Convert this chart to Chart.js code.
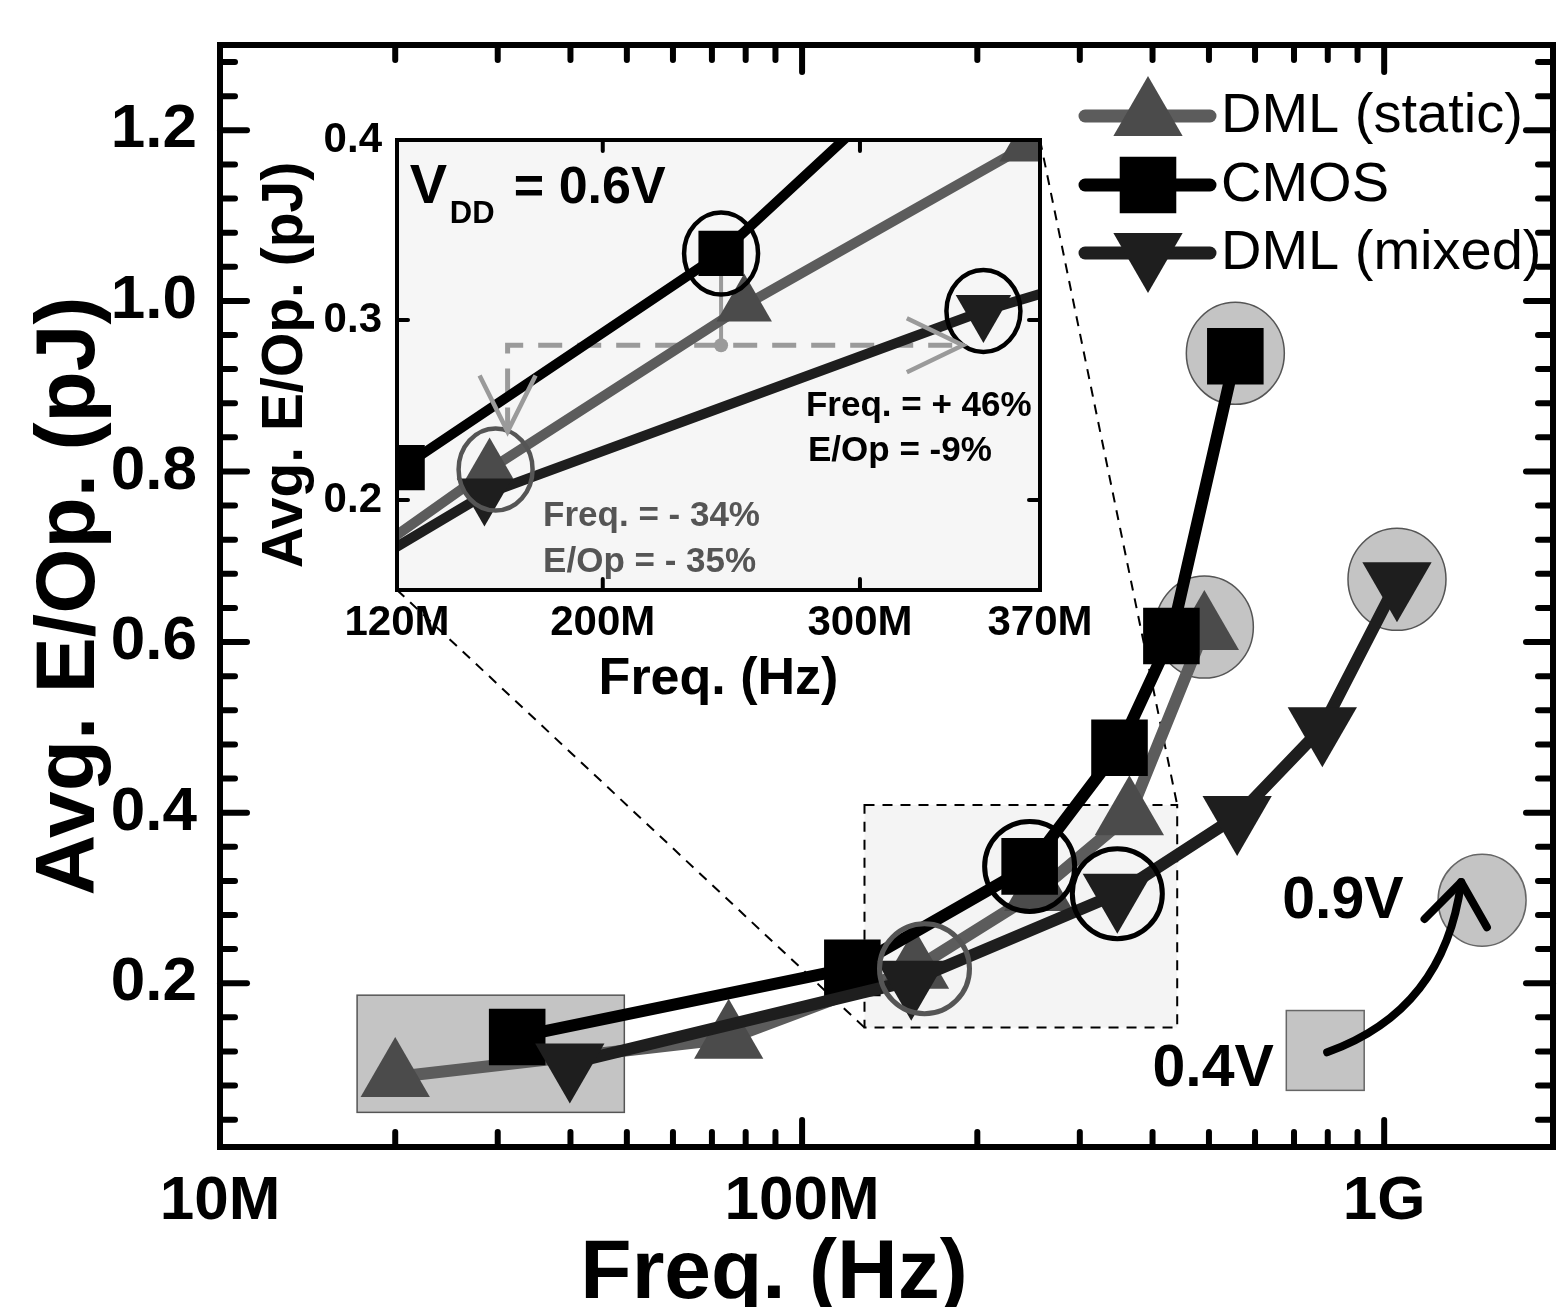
<!DOCTYPE html>
<html>
<head>
<meta charset="utf-8">
<script src="https://cdn.jsdelivr.net/npm/chart.js@4/dist/chart.umd.min.js"></script>
<style>
  html, body { margin: 0; padding: 0; background: #fff; }
  #wrap { position: relative; width: 1563px; height: 1307px; overflow: hidden; background: #fff; }
  #main { position: absolute; left: 0; top: 0; }
  #inset { position: absolute; left: 240px; top: 100px; }
</style>
</head>
<body>
<div id="wrap">
  <canvas id="main" width="1563" height="1307"></canvas>
  <canvas id="inset" width="860" height="620"></canvas>
</div>
<script>
'use strict';

/* Data (freq in Hz, avg energy per op in pJ) */

var seriesNames = ['DML (static)', 'CMOS', 'DML (mixed)'];

var staticFreq = [20e6, 74.8e6, 156e6, 255e6, 365e6, 491e6];
var staticEop  = [0.090, 0.135, 0.217, 0.308, 0.397, 0.614];

var cmosFreq = [32.4e6, 122e6, 246e6, 351e6, 431e6, 555e6];
var cmosEop  = [0.137, 0.218, 0.337, 0.476, 0.607, 0.935];

var mixedFreq = [39.9e6, 154e6, 348e6, 559e6, 783e6, 1052e6];
var mixedEop  = [0.106, 0.203, 0.305, 0.396, 0.500, 0.670];

var xTickValues = [1e7, 1e8, 1e9];
var xTickLabels = ['10M', '100M', '1G'];
var yTickValues = [0.2, 0.4, 0.6, 0.8, 1.0, 1.2];

var insetXTickValues = [120e6, 200e6, 300e6, 370e6];
var insetXTickLabels = ['120M', '200M', '300M', '370M'];
var insetYTickValues = [0.2, 0.3, 0.4];

var xTitle = 'Freq. (Hz)';
var yTitle = 'Avg. E/Op. (pJ)';

var FONT = "'Liberation Sans', Arial, sans-serif";

/* helpers */

function points(fs, vs) {
  return fs.map(function(f, i) { return {x: f, y: vs[i]}; });
}

function makeDatasets(radius, lineWidth) {
  return [
    {label: seriesNames[0], data: points(staticFreq, staticEop), borderColor: '#5c5c5c',
     pointBackgroundColor: '#4b4b4b', pointStyle: 'triangle', pointRotation: 0, order: 3},
    {label: seriesNames[1], data: points(cmosFreq, cmosEop), borderColor: '#000000',
     pointBackgroundColor: '#000000', pointStyle: 'rect', pointRotation: 0, order: 2},
    {label: seriesNames[2], data: points(mixedFreq, mixedEop), borderColor: '#1e1e1e',
     pointBackgroundColor: '#1e1e1e', pointStyle: 'triangle', pointRotation: 180, order: 1}
  ].map(function(ds) {
    return Object.assign(ds, {
      pointRadius: radius, pointHoverRadius: radius, pointBorderWidth: 0,
      borderWidth: lineWidth, fill: false, tension: 0
    });
  });
}

function drawMarker(ctx, style, rot, r, x, y) {
  ctx.beginPath();
  if (style === 'rect') {
    var s = r * Math.SQRT1_2;
    ctx.rect(x - s, y - s, 2 * s, 2 * s);
  } else {
    var a = rot * Math.PI / 180;
    for (var k = 0; k < 3; k++) {
      var t = a + k * 2 * Math.PI / 3;
      ctx.lineTo(x + Math.sin(t) * r, y - Math.cos(t) * r);
    }
    ctx.closePath();
  }
  ctx.fill();
}

function P(chart, f, v) {
  return [chart.scales.x.getPixelForValue(f), chart.scales.y.getPixelForValue(v)];
}

function seriesPoint(chart, s, i) {
  var fs = [staticFreq, cmosFreq, mixedFreq][s];
  var vs = [staticEop, cmosEop, mixedEop][s];
  return P(chart, fs[i], vs[i]);
}

function line(ctx, x0, y0, x1, y1) {
  ctx.beginPath(); ctx.moveTo(x0, y0); ctx.lineTo(x1, y1); ctx.stroke();
}

function drawFrame(chart, spec) {
  var a = chart.chartArea, ctx = chart.ctx;
  var sx = chart.scales.x, sy = chart.scales.y;
  ctx.save();
  ctx.strokeStyle = '#000';
  ctx.lineCap = 'round';
  ctx.lineWidth = spec.tickWidth;
  spec.xTicks.forEach(function(t) {
    var x = sx.getPixelForValue(t[0]);
    line(ctx, x, a.bottom, x, a.bottom - t[1]);
    line(ctx, x, a.top, x, a.top + t[1]);
  });
  spec.yTicks.forEach(function(t) {
    var y = sy.getPixelForValue(t[0]);
    line(ctx, a.left, y, a.left + t[1], y);
    line(ctx, a.right, y, a.right - t[1], y);
  });
  ctx.lineCap = 'butt';
  ctx.lineWidth = spec.frameWidth;
  ctx.strokeRect(a.left, a.top, a.right - a.left, a.bottom - a.top);
  ctx.restore();
}

function axisFont(size) {
  return {family: FONT, size: size, weight: 'bold', lineHeight: 1.2};
}

// fixed axis box, no extra room asked for labels at the ends
function fixBox(w, h) {
  return function(s) {
    if (w) s.width = w;
    if (h) s.height = h;
    s.paddingLeft = 0; s.paddingRight = 0; s.paddingTop = 0; s.paddingBottom = 0;
  };
}

/* main chart tick marks */
var mainXTicks = [];
[1e7, 1e8].forEach(function(d) {
  mainXTicks.push([d, 27]);
  for (var m = 2; m <= 9; m++) mainXTicks.push([m * d, 15]);
});
mainXTicks.push([1e9, 27]);
var mainYTicks = [];
for (var k = 1; k <= 32; k++) {
  mainYTicks.push([k * 0.04, k % 5 === 0 ? 27 : 15]);
}

/* inset chart */

var insetCanvas = document.getElementById('inset');

var insetDecor = {
  id: 'insetDecor',
  beforeDatasetsDraw: function(chart) {
    var a = chart.chartArea, ctx = chart.ctx;
    ctx.save();
    ctx.fillStyle = '#f6f6f6';
    ctx.fillRect(a.left, a.top, a.right - a.left, a.bottom - a.top);

    // dashed gray path: static point -> mixed point, marker at CMOS freq
    var a0 = P(chart, 163e6, 0.238);
    var a1 = P(chart, 163e6, 0.286);
    var a2 = P(chart, 340e6, 0.286);
    var d0 = P(chart, 246e6, 0.286), d1 = P(chart, 246e6, 0.337);
    ctx.strokeStyle = '#9a9a9a';
    ctx.lineWidth = 5;
    ctx.setLineDash([24, 15]);
    ctx.beginPath();
    ctx.moveTo(a0[0], a0[1]); ctx.lineTo(a1[0], a1[1]); ctx.lineTo(a2[0] - 8, a2[1]);
    ctx.stroke();
    ctx.setLineDash([]);
    ctx.lineWidth = 4;
    line(ctx, d0[0], d0[1], d1[0], d1[1]);
    ctx.restore();
  },
  afterDatasetsDraw: function(chart) {
    var ctx = chart.ctx;
    ctx.save();

    // highlighted points
    [[1, 2, '#000'], [2, 2, '#000'], [0, 2, '#555']].forEach(function(c) {
      var p = seriesPoint(chart, c[0], c[1]);
      ctx.strokeStyle = c[2];
      ctx.lineWidth = 4.5;
      ctx.beginPath();
      ctx.ellipse(p[0] + (c[0] === 0 ? 6 : 0), p[1], 37, 41, 0, 0, 2 * Math.PI);
      ctx.stroke();
    });

    // arrow heads and dot
    var a0 = P(chart, 163e6, 0.238);
    var a2 = P(chart, 340e6, 0.286);
    ctx.strokeStyle = '#9a9a9a';
    ctx.lineWidth = 4.5;
    ctx.beginPath();
    ctx.moveTo(a0[0] - 28, a0[1] - 56); ctx.lineTo(a0[0], a0[1]); ctx.lineTo(a0[0] + 28, a0[1] - 56);
    ctx.stroke();
    ctx.beginPath();
    ctx.moveTo(a2[0] - 56, a2[1] - 27); ctx.lineTo(a2[0], a2[1]); ctx.lineTo(a2[0] - 56, a2[1] + 27);
    ctx.stroke();
    var dot = P(chart, 246e6, 0.286);
    ctx.fillStyle = '#9a9a9a';
    ctx.beginPath(); ctx.arc(dot[0], dot[1], 7, 0, 2 * Math.PI); ctx.fill();

    ctx.restore();
    drawFrame(chart, {
      frameWidth: 4, tickWidth: 4,
      xTicks: [[200e6, 11], [300e6, 11]],
      yTicks: [[0.2, 11], [0.3, 11]]
    });

    // texts
    ctx.save();
    ctx.textAlign = 'left';
    ctx.textBaseline = 'alphabetic';
    ctx.fillStyle = '#000';
    var t = P(chart, 125e6, 0.365);
    ctx.font = 'bold 56px ' + FONT;
    ctx.fillText('V', t[0], t[1]);
    ctx.font = 'bold 31px ' + FONT;
    ctx.fillText('DD', t[0] + 40, t[1] + 20);
    ctx.font = 'bold 52px ' + FONT;
    ctx.fillText('= 0.6V', t[0] + 104, t[1]);

    ctx.font = 'bold 35px ' + FONT;
    t = P(chart, 279e6, 0.2467);
    ctx.fillText('Freq. = + 46%', t[0], t[1]);
    t = P(chart, 279.8e6, 0.2217);
    ctx.fillText('E/Op = -9%', t[0], t[1]);
    ctx.fillStyle = '#555';
    t = P(chart, 176.8e6, 0.1856);
    ctx.fillText('Freq. = - 34%', t[0], t[1]);
    t = P(chart, 176.8e6, 0.160);
    ctx.fillText('E/Op = - 35%', t[0], t[1]);
    ctx.restore();
  }
};

var insetChart = new Chart(insetCanvas, {
  type: 'line',
  data: {datasets: makeDatasets(32, 10)},
  options: {
    responsive: false,
    animation: false,
    devicePixelRatio: 1,
    layout: {autoPadding: false, padding: {left: 0, top: 40, right: 60, bottom: 0}},
    plugins: {legend: {display: false}, tooltip: {enabled: false}},
    scales: {
      x: {
        type: 'linear', min: 120e6, max: 370e6,
        grid: {display: false, drawTicks: false}, border: {display: false},
        afterBuildTicks: function(s) { s.ticks = insetXTickValues.map(function(v) { return {value: v}; }); },
        afterFit: fixBox(0, 130),
        ticks: {autoSkip: false, maxRotation: 0, padding: 8, color: '#000', font: axisFont(42),
                callback: function(v, i) { return insetXTickLabels[i]; }},
        title: {display: true, text: xTitle, color: '#000',
                font: {family: FONT, size: 52, weight: 'bold', lineHeight: 1}, padding: {top: 0, bottom: 14}}
      },
      y: {
        type: 'linear', min: 0.15, max: 0.4,
        grid: {display: false, drawTicks: false}, border: {display: false},
        afterBuildTicks: function(s) { s.ticks = insetYTickValues.map(function(v) { return {value: v}; }); },
        afterFit: fixBox(157, 0),
        ticks: {autoSkip: false, padding: 15, color: '#000', font: axisFont(42),
                callback: function(v) { return v.toFixed(1); }},
        title: {display: true, text: yTitle, color: '#000',
                font: {family: FONT, size: 57, weight: 'bold', lineHeight: 1}, padding: {top: 18, bottom: 0}}
      }
    }
  },
  plugins: [insetDecor]
});

/* main chart */

var mainDecor = {
  id: 'mainDecor',
  beforeDatasetsDraw: function(chart) {
    var ctx = chart.ctx;
    ctx.save();

    // zoom window of the inset
    var z0 = P(chart, 128e6, 0.409), z1 = P(chart, 441e6, 0.148);
    ctx.fillStyle = '#f4f4f4';
    ctx.fillRect(z0[0], z0[1], z1[0] - z0[0], z1[1] - z0[1]);
    ctx.strokeStyle = '#000';
    ctx.lineWidth = 2;
    ctx.setLineDash([10, 8]);
    ctx.strokeRect(z0[0], z0[1], z1[0] - z0[0], z1[1] - z0[1]);

    // lines to the inset corners
    var ia = insetChart.chartArea;
    var ox = insetCanvas.offsetLeft, oy = insetCanvas.offsetTop;
    line(ctx, ox + ia.right, oy + ia.top, z1[0], z0[1]);
    line(ctx, ox + ia.left, oy + ia.bottom, z0[0], z1[1]);
    ctx.setLineDash([]);

    // 0.4V group
    var g0 = P(chart, 17.2e6, 0.186), g1 = P(chart, 49.5e6, 0.0486);
    ctx.fillStyle = '#c4c4c4';
    ctx.fillRect(g0[0], g0[1], g1[0] - g0[0], g1[1] - g0[1]);
    ctx.strokeStyle = '#555';
    ctx.lineWidth = 1.5;
    ctx.strokeRect(g0[0], g0[1], g1[0] - g0[0], g1[1] - g0[1]);

    // 0.9V points
    [[0, 5], [1, 5], [2, 5]].forEach(function(c) {
      var p = seriesPoint(chart, c[0], c[1]);
      ctx.beginPath();
      ctx.ellipse(p[0], p[1] - 3, 49, 51, 0, 0, 2 * Math.PI);
      ctx.fill();
      ctx.stroke();
    });
    ctx.restore();
  },
  afterDatasetsDraw: function(chart) {
    var ctx = chart.ctx;
    ctx.save();

    // 0.6V points
    [[1, 2, '#000', 0], [2, 2, '#000', 0], [0, 2, '#555', 10]].forEach(function(c) {
      var p = seriesPoint(chart, c[0], c[1]);
      ctx.strokeStyle = c[2];
      ctx.lineWidth = 5;
      ctx.beginPath();
      ctx.arc(p[0] + c[3], p[1], 45, 0, 2 * Math.PI);
      ctx.stroke();
    });
    ctx.restore();

    drawFrame(chart, {frameWidth: 6, tickWidth: 6, xTicks: mainXTicks, yTicks: mainYTicks});

    // legend
    ctx.save();
    var ly = [116, 185, 253];
    chart.data.datasets.forEach(function(ds, i) {
      ctx.strokeStyle = ds.borderColor;
      ctx.lineWidth = 13;
      ctx.lineCap = 'round';
      line(ctx, 1085, ly[i], 1210, ly[i]);
      ctx.fillStyle = ds.pointBackgroundColor;
      drawMarker(ctx, ds.pointStyle, ds.pointRotation, 40, 1148, ly[i]);
      ctx.fillStyle = '#000';
      ctx.font = '56px ' + FONT;
      ctx.textBaseline = 'middle';
      ctx.textAlign = 'left';
      ctx.fillText(ds.label, 1221, ly[i] + 1);
    });

    // x axis title, centred under the figure as in the original
    ctx.textAlign = 'center';
    ctx.textBaseline = 'alphabetic';
    ctx.font = 'bold 84px ' + FONT;
    ctx.fillText(xTitle, 774, 1298);

    // voltage key
    ctx.textAlign = 'left';
    ctx.font = 'bold 59px ' + FONT;
    var t = P(chart, 668e6, 0.276);
    ctx.fillText('0.9V', t[0], t[1]);
    t = P(chart, 400e6, 0.080);
    ctx.fillText('0.4V', t[0], t[1]);

    var s0 = P(chart, 679e6, 0.168), s1 = P(chart, 924e6, 0.0744);
    ctx.fillStyle = '#c4c4c4';
    ctx.strokeStyle = '#666';
    ctx.lineWidth = 1.5;
    ctx.fillRect(s0[0], s0[1], s1[0] - s0[0], s1[1] - s0[1]);
    ctx.strokeRect(s0[0], s0[1], s1[0] - s0[0], s1[1] - s0[1]);
    var c = P(chart, 1.473e9, 0.2974);
    ctx.beginPath();
    ctx.ellipse(c[0], c[1], 44, 46, 0, 0, 2 * Math.PI);
    ctx.fill();
    ctx.stroke();

    // curved arrow 0.4V -> 0.9V
    var p0 = P(chart, 798e6, 0.119), pc = P(chart, 1.268e9, 0.168), p1 = P(chart, 1.356e9, 0.3186);
    ctx.strokeStyle = '#000';
    ctx.lineWidth = 8;
    ctx.lineCap = 'round';
    ctx.lineJoin = 'round';
    ctx.beginPath();
    ctx.moveTo(p0[0], p0[1]);
    ctx.quadraticCurveTo(pc[0], pc[1], p1[0], p1[1]);
    ctx.stroke();
    var ang = Math.atan2(p1[1] - pc[1], p1[0] - pc[0]);
    ctx.beginPath();
    ctx.moveTo(p1[0] - 52 * Math.cos(ang - 0.65), p1[1] - 52 * Math.sin(ang - 0.65));
    ctx.lineTo(p1[0], p1[1]);
    ctx.lineTo(p1[0] - 52 * Math.cos(ang + 0.65), p1[1] - 52 * Math.sin(ang + 0.65));
    ctx.stroke();
    ctx.restore();
  }
};

var mainChart = new Chart(document.getElementById('main'), {
  type: 'line',
  data: {datasets: makeDatasets(40, 12)},
  options: {
    responsive: false,
    animation: false,
    devicePixelRatio: 1,
    layout: {autoPadding: false, padding: {left: 0, top: 45, right: 10, bottom: 0}},
    plugins: {legend: {display: false}, tooltip: {enabled: false}},
    scales: {
      x: {
        type: 'logarithmic', min: 1e7, max: 1.95e9,
        grid: {display: false, drawTicks: false}, border: {display: false},
        afterBuildTicks: function(s) { s.ticks = xTickValues.map(function(v) { return {value: v}; }); },
        afterFit: fixBox(0, 160),
        ticks: {autoSkip: false, maxRotation: 0, padding: 18, color: '#000', font: axisFont(62),
                callback: function(v, i) { return xTickLabels[i]; }},
        title: {display: false}
      },
      y: {
        type: 'linear', min: 0.008, max: 1.3,
        grid: {display: false, drawTicks: false}, border: {display: false},
        afterBuildTicks: function(s) { s.ticks = yTickValues.map(function(v) { return {value: v}; }); },
        afterFit: fixBox(220, 0),
        ticks: {autoSkip: false, padding: 23, color: '#000', font: axisFont(62),
                callback: function(v) { return v.toFixed(1); }},
        title: {display: true, text: yTitle, color: '#000', align: 'center',
                font: {family: FONT, size: 84, weight: 'bold', lineHeight: 1}, padding: {top: 29, bottom: 0}}
      }
    }
  },
  plugins: [mainDecor]
});
</script>
</body>
</html>
